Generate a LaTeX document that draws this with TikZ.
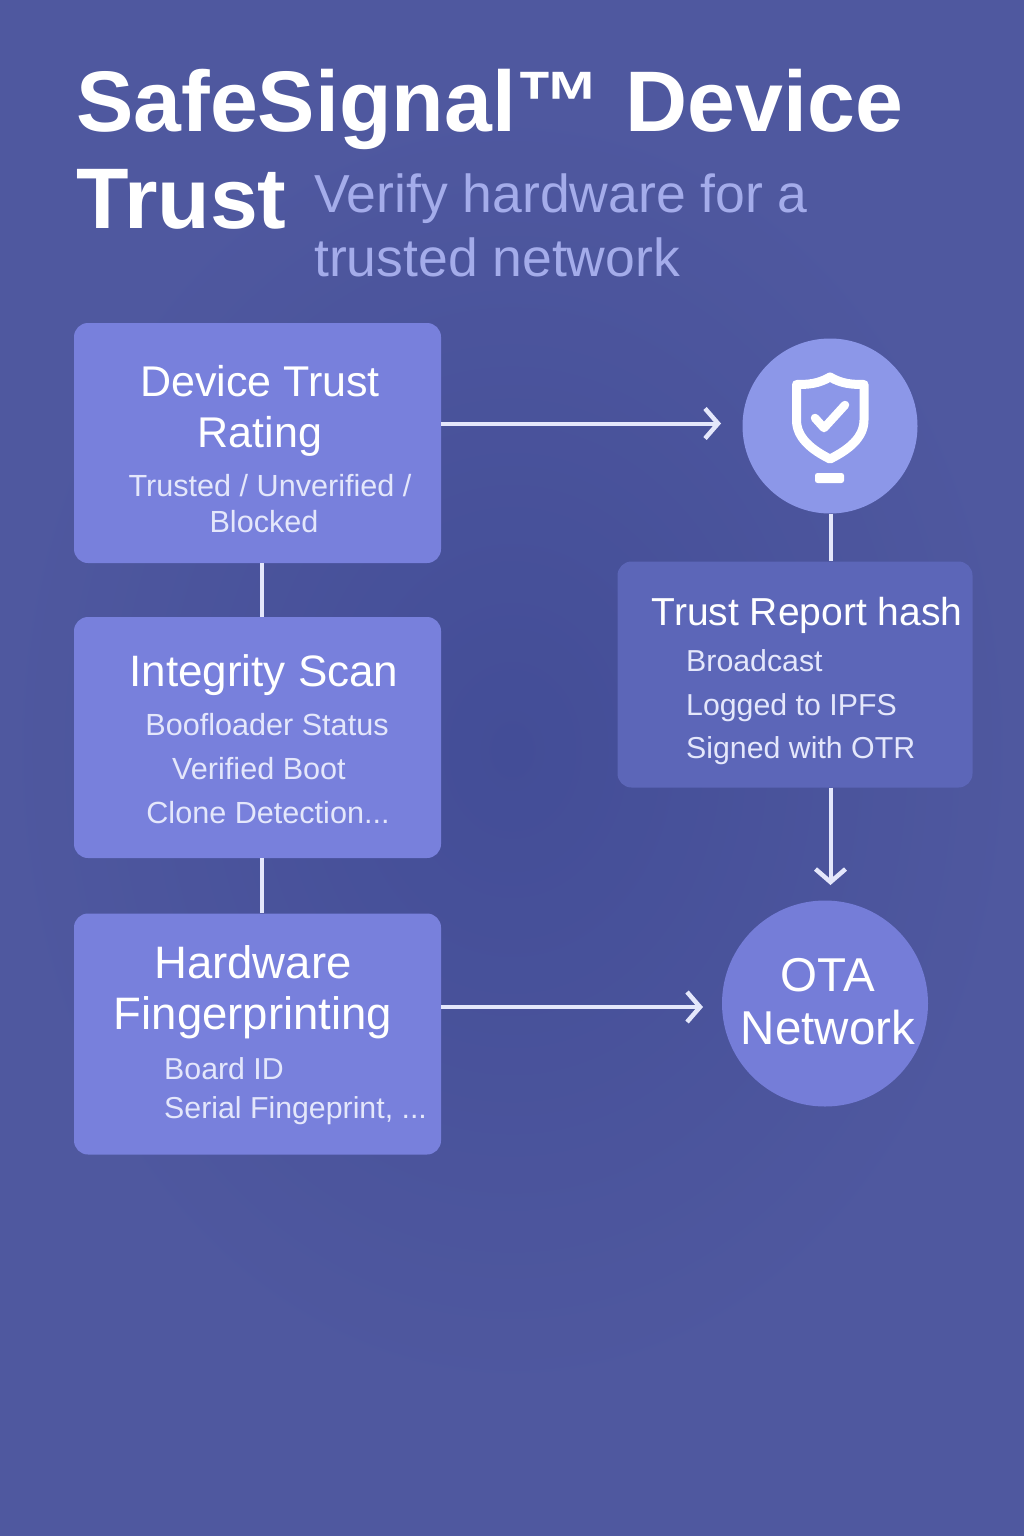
\documentclass[tikz,border=0pt]{standalone}
\usepackage{fontspec}
\setmainfont{Liberation Sans}
\usetikzlibrary{arrows.meta,shadings}
\definecolor{bgedge}{HTML}{4F589F}
\definecolor{bgmid}{HTML}{434D97}
\definecolor{boxa}{HTML}{7880DC}
\definecolor{boxb}{HTML}{5C66B8}
\definecolor{circa}{HTML}{8C97E8}
\definecolor{circb}{HTML}{757DD8}
\definecolor{subt}{HTML}{A4ACEA}
\definecolor{txtb}{HTML}{E4E7FB}
\tikzset{
 x=1pt,y=-1pt,
 card/.style={draw=none,rounded corners=14,inner sep=0,fill=boxa},
 hd/.style={text=white,font=\fontsize{44}{51}\selectfont,align=center,inner sep=0},
 sb/.style={text=txtb,font=\fontsize{30.3}{36}\selectfont,inner sep=0,anchor=west},
 sc/.style={text=txtb,font=\fontsize{30.6}{36}\selectfont,inner sep=0},
 ttl/.style={text=white,font=\bfseries\fontsize{86}{86}\selectfont,inner sep=0,anchor=west},
 subl/.style={text=subt,font=\fontsize{53.5}{60}\selectfont,inner sep=0,anchor=west},
 conn/.style={draw=txtb,line width=4},
 arr/.style={conn,-{Straight Barb[length=13,width=30,line width=4.5]}},
}
\begin{document}
\begin{tikzpicture}
\useasboundingbox (0,0) rectangle (1024,1536);
\fill[bgedge] (0,0) rectangle (1024,1536);
\shade[inner color=bgmid,outer color=bgedge] (0,100) rectangle (1024,1400);
\node[ttl] (t1) at (76,109) {SafeSignal™ Device};
\node[ttl] (t2) at (76,199) {Trust};
\node[subl] (s1) at (314,199) {Verify hardware for a};
\node[subl] (s2) at (314,257) {trusted network};
\node[card,minimum width=367,minimum height=240] (rate) at (257.5,443) {};
\node[card,minimum width=367,minimum height=241] (scan) at (257.5,737.5) {};
\node[card,minimum width=367,minimum height=241] (hw) at (257.5,1034) {};
\node[card,fill=boxb,minimum width=355,minimum height=226] (rep) at (795,674.5) {};
\node[circle,fill=circa,minimum size=175,inner sep=0] (shield) at (830,426) {};
\node[circle,fill=circb,minimum size=206,inner sep=0] (ota) at (825,1003.5) {};
\node[hd,font=\fontsize{43}{51}\selectfont] (h1) at (260,411) {Device Trust\\Rating};
\node[sc] (d1) at (270,486) {Trusted / Unverified /};
\node[sc] (d2) at (264,522) {Blocked};
\node[hd] (h2) at (264,675) {Integrity Scan};
\node[sc] (d3) at (267,725) {Boofloader Status};
\node[sc] (d4) at (259,769) {Verified Boot};
\node[sc] (d5) at (268,813) {Clone Detection...};
\node[hd,font=\fontsize{45.5}{51}\selectfont] (h3) at (253,992) {Hardware\\Fingerprinting};
\node[sb] (d6) at (164,1069) {Board ID};
\node[sb] (d7) at (164,1111) {Serial  Fingeprint, ...};
\node[hd,font=\fontsize{39}{46}\selectfont] (h4) at (807,615) {Trust Report hash};
\node[sb] (d8) at (686,661) {Broadcast};
\node[sb] (d9) at (686,708) {Logged to IPFS};
\node[sb] (d10) at (686,751) {Signed with OTR};
\node[hd,font=\fontsize{47.5}{53}\selectfont] (h5) at (828,1002) {OTA\\Network};
\coordinate (arA) at (721,423.5);
\coordinate (arB) at (703,1007);
\coordinate (arC) at (830.5,885);
\coordinate (s1a) at (261.5,563);
\coordinate (s1b) at (261.5,617);
\draw[conn] (s1a |- rate.south) -- (s1a |- scan.north);
\draw[conn] (s1a |- scan.south) -- (s1a |- hw.north);
\draw[conn] (arC |- shield.south) -- (arC |- rep.north);
\draw[arr] (rate.east |- arA) -- (arA);
\draw[arr] (hw.east |- arB) -- (arB);
\draw[arr] (arC |- rep.south) -- (arC);
\begin{scope}[line width=9,draw=white,line join=round]
\draw (830,377) .. controls (818,384) and (808,384.5) .. (796.5,384.5) -- (796.5,420) .. controls (796.5,438) and (812,450) .. (830,459) .. controls (848,450) and (864,438) .. (864,420) -- (864,384.5) .. controls (852,384.5) and (842,384) .. (830,377) -- cycle;
\draw[line cap=round,line width=8.5] (815,418) -- (824,428) -- (845,405);
\end{scope}
\fill[white,rounded corners=2.5] (815,473) rectangle (844,483);
\end{tikzpicture}
\end{document}
